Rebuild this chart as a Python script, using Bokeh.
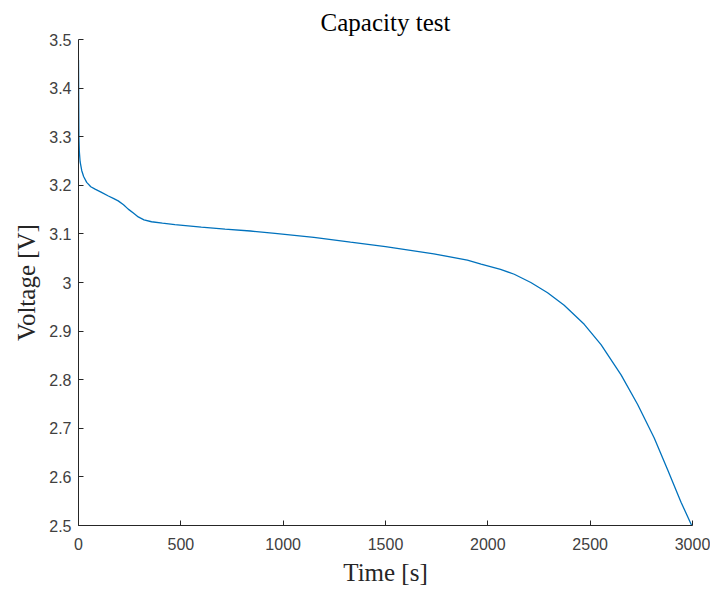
from bokeh.plotting import figure
from bokeh.models import Range1d, FixedTicker
from bokeh.embed import file_html
from bokeh.resources import INLINE

# Data
time_s = [0, 1, 2, 4, 8, 16, 25, 40, 60, 81, 110, 146, 170, 194, 220, 243, 268, 292, 320,
          357, 410, 471, 600, 716, 840, 960, 1150, 1329, 1500, 1736, 1900, 1967, 2062, 2129,
          2210, 2292, 2373, 2471, 2553, 2651, 2732, 2813, 2879, 2944, 2996]
voltage_v = [3.458, 3.38, 3.30, 3.27, 3.248, 3.230, 3.218, 3.206, 3.197, 3.192, 3.186, 3.178,
             3.173, 3.168, 3.160, 3.151, 3.143, 3.135, 3.129, 3.125, 3.122, 3.119, 3.114,
             3.110, 3.106, 3.101, 3.093, 3.083, 3.074, 3.059, 3.046, 3.038, 3.027, 3.017,
             3.000, 2.979, 2.953, 2.914, 2.872, 2.810, 2.749, 2.680, 2.614, 2.548, 2.500]
x_ticks = [0, 500, 1000, 1500, 2000, 2500, 3000]
y_ticks = [2.5, 2.6, 2.7, 2.8, 2.9, 3.0, 3.1, 3.2, 3.3, 3.4, 3.5]
y_tick_labels = ["2.5", "2.6", "2.7", "2.8", "2.9", "3", "3.1", "3.2", "3.3", "3.4", "3.5"]

p = figure(width=710, height=593, output_backend="svg", toolbar_location=None,
           x_range=Range1d(0, 3000), y_range=Range1d(2.5, 3.5),
           min_border_left=78, min_border_right=18, min_border_top=39, min_border_bottom=68,
           title="Capacity test")
p.outline_line_color = None
p.background_fill_color = "white"
p.border_fill_color = "white"

p.title.align = "center"
p.title.text_font = "Liberation Serif"
p.title.text_font_style = "normal"
p.title.text_font_size = "25px"
p.title.text_color = "#000000"
p.title.standoff = 7

p.xgrid.grid_line_color = None
p.ygrid.grid_line_color = None

for ax in (p.xaxis[0], p.yaxis[0]):
    ax.axis_line_color = "#262626"
    ax.axis_line_width = 1
    ax.major_tick_in = 5
    ax.major_tick_out = 0
    ax.major_tick_line_color = "#262626"
    ax.minor_tick_line_color = None
    ax.major_label_text_font = "Liberation Sans"
    ax.major_label_text_font_size = "16px"
    ax.major_label_text_color = "#404040"
    ax.axis_label_text_font = "Liberation Serif"
    ax.axis_label_text_font_style = "normal"
    ax.axis_label_text_font_size = "25px"
    ax.axis_label_text_color = "#262626"

p.xaxis.ticker = FixedTicker(ticks=x_ticks)
p.yaxis.ticker = FixedTicker(ticks=y_ticks)
p.yaxis.major_label_overrides = {t: l for t, l in zip(y_ticks, y_tick_labels)}
p.xaxis.axis_label = "Time [s]"
p.yaxis.axis_label = "Voltage [V]"
p.xaxis.major_label_standoff = 12
p.yaxis.major_label_standoff = 7
p.xaxis.axis_label_standoff = 6
p.yaxis.axis_label_standoff = 6

p.line(time_s, voltage_v, line_color="#0072BD", line_width=1.3)

open("out.html", "w").write(file_html(p, INLINE))
